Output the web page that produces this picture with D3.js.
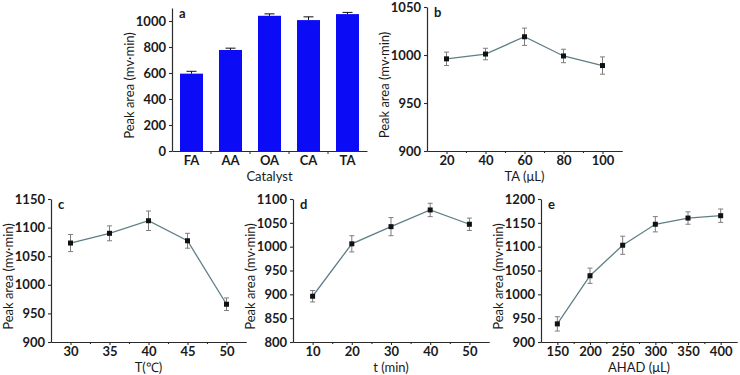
<html>
<head>
    <style>
        body {
            margin: 0;
            background: white;
            font-family: Lato, "Open Sans", sans-serif;
        }
        .tick text {
            font-family: Lato, "Open Sans", sans-serif;
            font-size: 13px;
            font-weight: 700;
            fill: #1a1a1a;
        }
        .title {
            font-size: 13px;
            fill: #1a1a1a;
        }
        .panelLabel {
            font-size: 13px;
            font-weight: 700;
            fill: #1a1a1a;
        }
    </style>
    <script src="https://d3js.org/d3.v7.min.js"></script>
</head>
<body>
    <svg id="Figure" width="740" height="375"></svg>
<script>
    // panel a - catalysts (bars)
    let catalysts = ["FA", "AA", "OA", "CA", "TA"]
    let catalystArea = [595, 777, 1040, 1007, 1053]
    let catalystErr = [18, 14, 15, 25, 13]
    let catalystTicks = [0, 200, 400, 600, 800, 1000]

    // panel b - TA volume
    let taVolume = [20, 40, 60, 80, 100]
    let taArea = [996, 1001, 1019, 999, 989]
    let taErr = [7, 6, 9, 7, 9]
    let taYTicks = [900, 950, 1000, 1050]

    // panel c - temperature
    let temperature = [30, 35, 40, 45, 50]
    let tempArea = [1073, 1090, 1112, 1077, 966]
    let tempErr = [15, 13, 17, 13, 11]
    let tempYTicks = [900, 950, 1000, 1050, 1100, 1150]

    // panel d - time
    let time = [10, 20, 30, 40, 50]
    let timeArea = [896, 1006, 1042, 1077, 1047]
    let timeErr = [12, 17, 19, 14, 13]
    let timeYTicks = [800, 850, 900, 950, 1000, 1050, 1100]

    // panel e - AHAD volume
    let ahad = [150, 200, 250, 300, 350, 400]
    let ahadArea = [938, 1039, 1103, 1147, 1160, 1165]
    let ahadErr = [15, 16, 19, 16, 13, 14]
    let ahadYTicks = [900, 950, 1000, 1050, 1100, 1150, 1200]

    let svg = d3.select("#Figure")
    let axisColor = "#2b2b2b"
    let plain = d3.format("d")

    function styleAxis(g) {
        g.select(".domain").attr("stroke", axisColor).attr("stroke-width", 1.2)
        g.selectAll(".tick line").attr("stroke", axisColor).attr("stroke-width", 1.1)
    }

    function addTitles(cfg, xTitle) {
        let { left, top, width, height, yTitleX, xTitleGap } = cfg
        svg.append("text")
            .attr("class", "title")
            .attr("text-anchor", "middle")
            .attr("transform", `translate(${yTitleX},${top + height / 2 + 6}) rotate(-90)`)
            .text("Peak area (mv·min)")

        svg.append("text")
            .attr("class", "title")
            .attr("text-anchor", "middle")
            .attr("x", left + width / 2)
            .attr("y", top + height + xTitleGap)
            .text(xTitle)

        svg.append("text")
            .attr("class", "panelLabel")
            .attr("x", left + 7)
            .attr("y", top + 10)
            .text(cfg.label)
    }

    ////////////////////////////////////////////////////////////////

    function drawBarPanel() {
        let cfg = { left: 172, top: 8, width: 195, height: 143, yTitleX: 134, xTitleGap: 30, label: "a" }
        let { left, top, width, height } = cfg

        let xScale = d3.scaleBand()
            .domain(catalysts)
            .range([0, width])
            .paddingInner(0.41)
            .paddingOuter(0.205)
        let yScale = d3.scaleLinear()
            .domain([0, 1100])
            .range([height, 0])

        let body = svg.append("g")
            .attr("transform", `translate(${left},${top})`)

        body.selectAll(".bar")
            .data(catalysts)
            .enter().append("rect")
            .attr("class", "bar")
            .attr("x", d => xScale(d))
            .attr("width", xScale.bandwidth())
            .attr("y", (d, i) => yScale(catalystArea[i]))
            .attr("height", (d, i) => height - yScale(catalystArea[i]))
            .attr("fill", "#0b0bf5")

        // error bars (only the upper half shows above the bar)
        let err = body.selectAll(".err")
            .data(catalysts)
            .enter().append("g")
            .attr("class", "err")
            .attr("stroke", "#111")
            .attr("stroke-width", 1)
        err.append("line")
            .attr("x1", d => xScale(d) + xScale.bandwidth() / 2)
            .attr("x2", d => xScale(d) + xScale.bandwidth() / 2)
            .attr("y1", (d, i) => yScale(catalystArea[i]))
            .attr("y2", (d, i) => yScale(catalystArea[i] + catalystErr[i]))
        err.append("line")
            .attr("x1", d => xScale(d) + xScale.bandwidth() / 2 - 5)
            .attr("x2", d => xScale(d) + xScale.bandwidth() / 2 + 5)
            .attr("y1", (d, i) => yScale(catalystArea[i] + catalystErr[i]))
            .attr("y2", (d, i) => yScale(catalystArea[i] + catalystErr[i]))

        let axisY = d3.axisLeft(yScale)
            .tickValues(catalystTicks)
            .tickFormat(plain)
            .tickSize(3)
            .tickSizeOuter(0)
            .tickPadding(3)
        body.append("g").call(axisY).call(styleAxis)

        let axisX = d3.axisBottom(xScale)
            .tickSize(0)
            .tickPadding(5)
        let gx = body.append("g")
            .attr("transform", `translate(0,${height})`)
            .call(axisX)
            .call(styleAxis)

        // small ticks between categories
        gx.selectAll(".sep")
            .data(catalysts.slice(1))
            .enter().append("line")
            .attr("class", "sep")
            .attr("x1", d => xScale(d) - xScale.step() * xScale.paddingInner() / 2)
            .attr("x2", d => xScale(d) - xScale.step() * xScale.paddingInner() / 2)
            .attr("y1", 0)
            .attr("y2", 3)
            .attr("stroke", axisColor)

        addTitles(cfg, "Catalyst")
    }

    function drawLinePanel(cfg, xs, ys, errs, xDomain, xTicks, yDomain, yTicks, xTitle) {
        let { left, top, width, height } = cfg

        let xScale = d3.scaleLinear().domain(xDomain).range([0, width])
        let yScale = d3.scaleLinear().domain(yDomain).range([height, 0])

        let body = svg.append("g")
            .attr("transform", `translate(${left},${top})`)

        let points = xs.map((x, i) => ({ x: x, y: ys[i], e: errs[i] }))

        let line = d3.line()
            .x(d => xScale(d.x))
            .y(d => yScale(d.y))

        body.append("path")
            .datum(points)
            .attr("d", line)
            .attr("fill", "none")
            .attr("stroke", "#5f7f88")
            .attr("stroke-width", 1.3)

        let err = body.selectAll(".err")
            .data(points)
            .enter().append("g")
            .attr("class", "err")
            .attr("stroke", "#7d7d7d")
            .attr("stroke-width", 1)
        err.append("line")
            .attr("x1", d => xScale(d.x))
            .attr("x2", d => xScale(d.x))
            .attr("y1", d => yScale(d.y - d.e))
            .attr("y2", d => yScale(d.y + d.e))
        err.append("line")
            .attr("x1", d => xScale(d.x) - 2.5)
            .attr("x2", d => xScale(d.x) + 2.5)
            .attr("y1", d => yScale(d.y + d.e))
            .attr("y2", d => yScale(d.y + d.e))
        err.append("line")
            .attr("x1", d => xScale(d.x) - 2.5)
            .attr("x2", d => xScale(d.x) + 2.5)
            .attr("y1", d => yScale(d.y - d.e))
            .attr("y2", d => yScale(d.y - d.e))

        body.selectAll(".marker")
            .data(points)
            .enter().append("rect")
            .attr("class", "marker")
            .attr("x", d => xScale(d.x) - 2.5)
            .attr("y", d => yScale(d.y) - 2.5)
            .attr("width", 5)
            .attr("height", 5)
            .attr("fill", "#111")

        let axisY = d3.axisLeft(yScale)
            .tickValues(yTicks)
            .tickFormat(plain)
            .tickSize(3)
            .tickSizeOuter(0)
            .tickPadding(3)
        body.append("g").call(axisY).call(styleAxis)

        let axisX = d3.axisBottom(xScale)
            .tickValues(xTicks)
            .tickFormat(plain)
            .tickSize(3)
            .tickSizeOuter(0)
            .tickPadding(2)
        body.append("g")
            .attr("transform", `translate(0,${height})`)
            .call(axisX)
            .call(styleAxis)

        // minor ticks half way between the labelled ones
        let step = xTicks[1] - xTicks[0]
        let minor = xTicks.map(t => t + step / 2).filter(t => t < xDomain[1])
        let axisMinor = d3.axisBottom(xScale)
            .tickValues(minor)
            .tickSize(2)
            .tickSizeOuter(0)
            .tickFormat("")
        body.append("g")
            .attr("transform", `translate(0,${height})`)
            .call(axisMinor)
            .call(styleAxis)

        addTitles(cfg, xTitle)
    }

    ////////////////////////////////////////////////////////////////

    drawBarPanel()

    drawLinePanel({ left: 427, top: 7, width: 195, height: 144, yTitleX: 389, xTitleGap: 30, label: "b" },
        taVolume, taArea, taErr, [10, 110], taVolume, [900, 1050], taYTicks, "TA (μL)")

    drawLinePanel({ left: 51, top: 199, width: 195, height: 143, yTitleX: 13, xTitleGap: 30, label: "c" },
        temperature, tempArea, tempErr, [27.5, 52.5], temperature, [900, 1150], tempYTicks, "T(℃)")

    drawLinePanel({ left: 293, top: 199, width: 196, height: 143, yTitleX: 255, xTitleGap: 30, label: "d" },
        time, timeArea, timeErr, [5, 55], time, [800, 1100], timeYTicks, "t (min)")

    drawLinePanel({ left: 541, top: 199, width: 196, height: 143, yTitleX: 503, xTitleGap: 30, label: "e" },
        ahad, ahadArea, ahadErr, [125, 425], ahad, [900, 1200], ahadYTicks, "AHAD  (μL)")
</script>
</body>
</html>
